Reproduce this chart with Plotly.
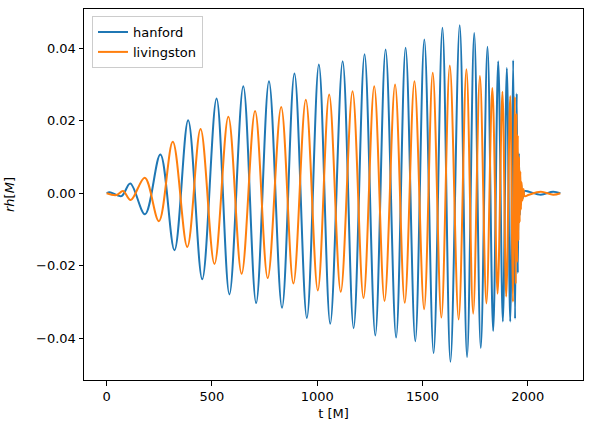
import plotly.graph_objects as go

# Extrema of the waveforms (t in M, strain r*h in M)
hanford_t = [0, 14, 70, 112, 182, 255, 322, 387, 454, 522, 583, 649, 710, 771, 833, 892,
             951, 1008, 1062, 1121, 1173, 1225, 1276, 1325, 1375, 1420, 1466, 1509, 1553,
             1595, 1633, 1677, 1712, 1746, 1777, 1809, 1836, 1860, 1882, 1901, 1917, 1931,
             1940, 1948, 1953, 1958, 1963, 1968, 1975, 1985, 2006, 2062, 2121, 2155]
hanford_h = [0.0, 0.0003, -0.0008, 0.0027, -0.0058, 0.0107, -0.0157, 0.0201, -0.0237,
             0.0261, -0.0279, 0.0295, -0.0303, 0.0309, -0.0316, 0.0330, -0.0344, 0.0355,
             -0.0360, 0.0364, -0.0372, 0.0383, -0.0392, 0.0396, -0.0398, 0.0401, -0.0408,
             0.0424, -0.0441, 0.0456, -0.0465, 0.0463, -0.0452, 0.0442, -0.0427, 0.0404,
             -0.0380, 0.0364, -0.0354, 0.0345, -0.0354, 0.0367, -0.0346, 0.0275, -0.0220,
             0.0110, -0.0060, 0.0030, -0.0015, 0.0006, 0.0004, -0.0004, 0.0004, 0.0]

livingston_t = [0, 46, 78, 114, 181, 248, 314, 383, 446, 512, 578, 641, 705, 765, 829, 887,
                946, 1003, 1057, 1112, 1168, 1220, 1271, 1320, 1370, 1416, 1462, 1508, 1549,
                1590, 1630, 1672, 1709, 1741, 1773, 1804, 1832, 1857, 1880, 1898, 1917, 1930,
                1939, 1943, 1947, 1950, 1953, 1956, 1959, 1962, 1965, 1968, 1971, 1975, 1980,
                1986, 2006, 2062, 2121, 2155]
livingston_h = [0.0, -0.0005, 0.0006, -0.0019, 0.0043, -0.0077, 0.0142, -0.0148, 0.0177,
                -0.0195, 0.0211, -0.0222, 0.0227, -0.0234, 0.0238, -0.0249, 0.0258, -0.0268,
                0.0272, -0.0272, 0.0281, -0.0289, 0.0295, -0.0297, 0.0300, -0.0302, 0.0309,
                -0.0320, 0.0332, -0.0343, 0.0352, -0.0348, 0.0342, -0.0332, 0.0323, -0.0304,
                0.0290, -0.0277, 0.0280, -0.0285, 0.0268, -0.0300, 0.0266, -0.0250, 0.0220,
                -0.0190, 0.0160, -0.0130, 0.0100, -0.0080, 0.0060, -0.0045, 0.0030, -0.0020,
                0.0012, -0.0008, -0.0004, 0.0004, -0.0004, 0.0]

x_ticks = [0, 500, 1000, 1500, 2000]
y_ticks = [-0.04, -0.02, 0.00, 0.02, 0.04]

FONT = "DejaVu Sans"
FS = 13

fig = go.Figure()
fig.add_trace(go.Scatter(x=hanford_t, y=hanford_h, mode="lines", name="hanford",
                         line=dict(color="#1f77b4", width=2, shape="spline", smoothing=1.0)))
fig.add_trace(go.Scatter(x=livingston_t, y=livingston_h, mode="lines", name="livingston",
                         line=dict(color="#ff7f0e", width=2, shape="spline", smoothing=1.0)))

axis_common = dict(showgrid=False, zeroline=False, showline=True, linecolor="black",
                   linewidth=1, mirror=True, ticks="outside", ticklen=4.5, tickwidth=1,
                   tickcolor="black", tickfont=dict(family=FONT, size=FS, color="black"))

fig.update_layout(
    width=589, height=432,
    margin=dict(l=84, r=6, t=9, b=52),
    paper_bgcolor="white", plot_bgcolor="white",
    font=dict(family=FONT, size=FS, color="black"),
    showlegend=True,
    legend=dict(x=0.016, y=0.981, xanchor="left", yanchor="top",
                bgcolor="rgba(255,255,255,0.8)", bordercolor="#cccccc", borderwidth=1,
                font=dict(family=FONT, size=FS, color="black"),
                itemwidth=30, tracegroupgap=0),
    xaxis=dict(range=[-107.75, 2262.75], tickvals=x_ticks,
               ticktext=[str(v) for v in x_ticks],
               title=dict(text="t [M]", font=dict(family=FONT, size=FS), standoff=5),
               **axis_common),
    yaxis=dict(range=[-0.0515, 0.0508], tickvals=y_ticks,
               ticktext=[f"{v:.2f}".replace("-", "\u2212") for v in y_ticks],
               title=dict(text="<i>rh</i>[<i>M</i>]", font=dict(family=FONT, size=FS),
                          standoff=18),
               **axis_common),
)

fig.write_html("out.html")
